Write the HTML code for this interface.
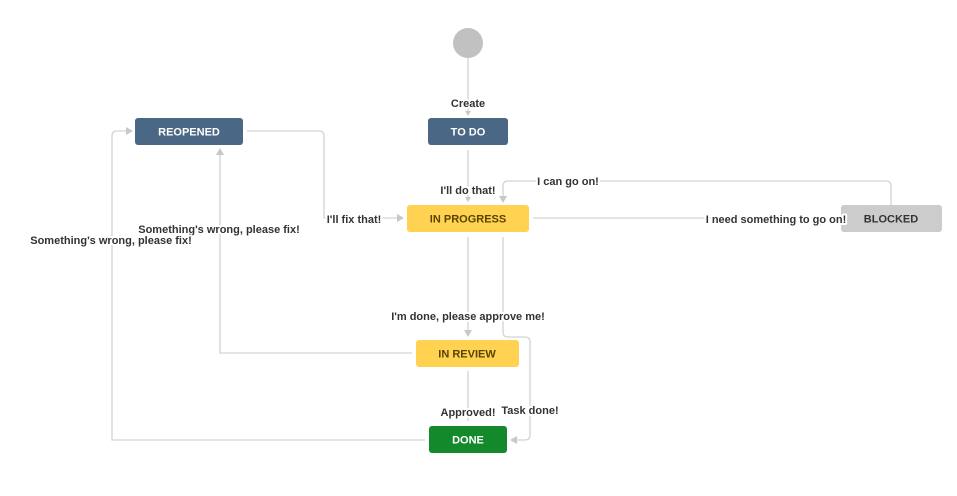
<!DOCTYPE html>
<html><head><meta charset="utf-8"><style>
html,body{margin:0;padding:0;background:#fff;}
svg{display:block;}
text{font-family:"Liberation Sans",Arial,sans-serif;font-weight:bold;font-size:11px;}
.l{fill:#333;text-anchor:middle;paint-order:stroke;stroke:#fff;stroke-width:4px;stroke-linejoin:round;}
.c{fill:none;stroke:#d3d3d3;stroke-width:1.3;}
.a{fill:#c8c8c8;}
.n{font-size:11px;text-anchor:middle;}
</style></head><body>
<svg width="957" height="496" viewBox="0 0 957 496">
<circle cx="468" cy="43" r="15" fill="#c1c1c1"/>
<path class="c" d="M468 58 V112"/>
<path class="a" d="M465 111 L471 111 L468 116Z"/>
<path class="c" d="M468 150 V198"/>
<path class="a" d="M465 197 L471 197 L468 202Z"/>
<path class="c" d="M247 131 H319 Q324 131 324 136 V218 H398"/>
<path class="a" d="M397 214 L397 222 L404 218Z"/>
<path class="c" d="M533 218 H836"/>
<path class="c" d="M891 205 V186 Q891 181 886 181 H508 Q503 181 503 186 V197"/>
<path class="a" d="M499 196 L507 196 L503 203Z"/>
<path class="c" d="M468 237 V331"/>
<path class="a" d="M464 330 L472 330 L468 337Z"/>
<path class="c" d="M503 237 V332 Q503 337 508 337 H525 Q530 337 530 342 V435 Q530 440 525 440 H516"/>
<path class="a" d="M517 436 L517 444 L510 440Z"/>
<path class="c" d="M412 353 H220 V154"/>
<path class="a" d="M216 155 L224 155 L220 148Z"/>
<path class="c" d="M468 371 V421"/>
<path class="c" d="M425 440 H112 V136 Q112 131 117 131 H127"/>
<path class="a" d="M126 127 L126 135 L133 131Z"/>
<rect x="135" y="118" width="108" height="27" rx="3" fill="#4a6785"/>
<text class="n" x="189" y="135.5" fill="#fff">REOPENED</text>
<rect x="428" y="118" width="80" height="27" rx="3" fill="#4a6785"/>
<text class="n" x="468" y="135.5" fill="#fff">TO DO</text>
<rect x="407" y="205" width="122" height="27" rx="3" fill="#ffd351"/>
<text class="n" x="468" y="222.5" fill="#594300">IN PROGRESS</text>
<rect x="841" y="205" width="101" height="27" rx="3" fill="#cccccc"/>
<text class="n" x="891" y="222.5" fill="#333">BLOCKED</text>
<rect x="416" y="340" width="103" height="27" rx="3" fill="#ffd351"/>
<text class="n" x="467" y="357.5" fill="#594300">IN REVIEW</text>
<rect x="429" y="426" width="78" height="27" rx="3" fill="#14892c"/>
<text class="n" x="468" y="443.5" fill="#fff">DONE</text>
<text class="l" x="468" y="107">Create</text>
<text class="l" x="468" y="194">I'll do that!</text>
<text class="l" x="354" y="223">I'll fix that!</text>
<text class="l" x="776" y="223">I need something to go on!</text>
<text class="l" x="568" y="185">I can go on!</text>
<text class="l" x="468" y="320">I'm done, please approve me!</text>
<text class="l" x="530" y="414">Task done!</text>
<text class="l" x="468" y="416">Approved!</text>
<text class="l" x="219" y="233">Something's wrong, please fix!</text>
<text class="l" x="111" y="244">Something's wrong, please fix!</text>
</svg>
</body></html>
